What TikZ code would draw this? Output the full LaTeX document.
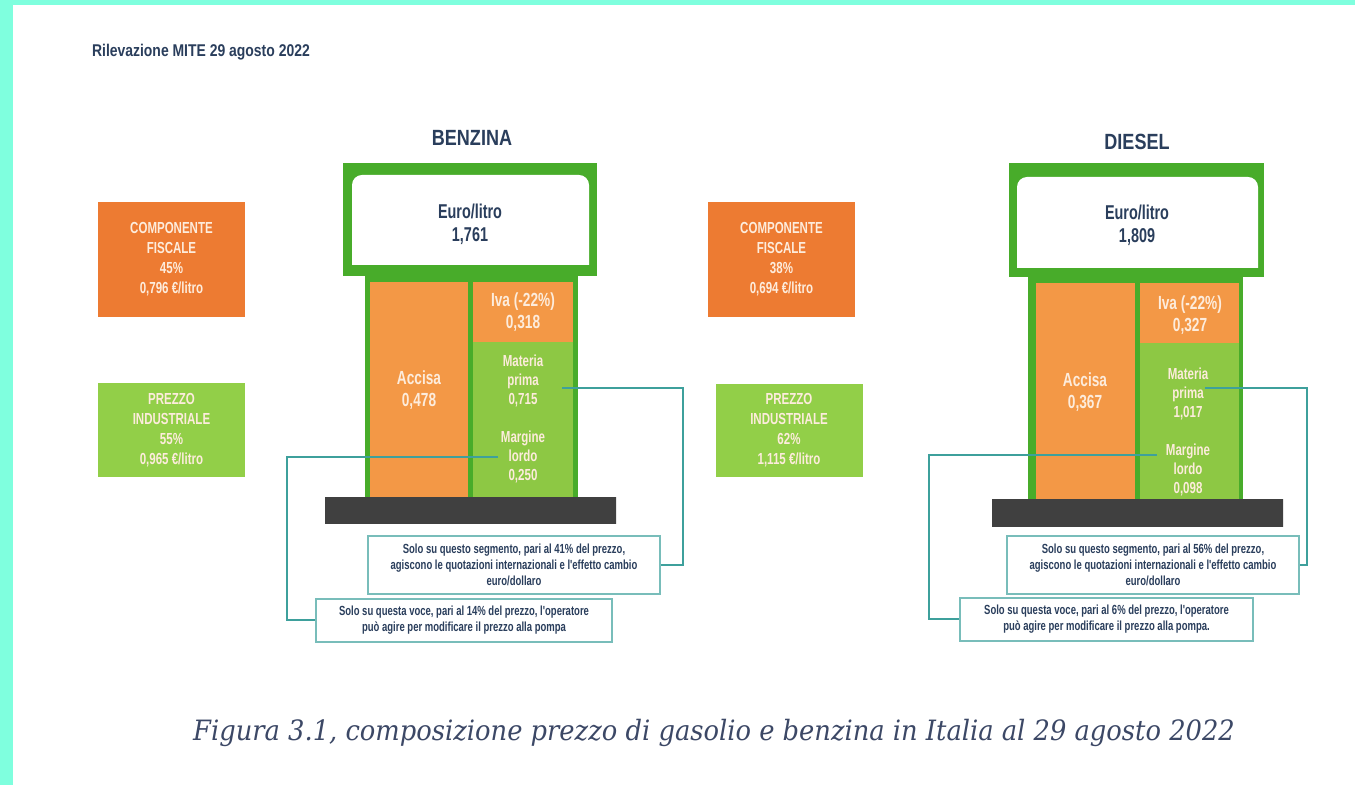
\documentclass[tikz,border=0pt]{standalone}
\usepackage{fontspec}
\usepackage{tikz}
\usetikzlibrary{positioning}
\newfontfamily\condfont[FakeStretch=0.82]{Liberation Sans}
\newfontfamily\narrowfont[FakeStretch=0.72]{Liberation Sans}
\newfontfamily\capfont[FakeStretch=0.92]{DejaVu Serif}
\definecolor{aquaband}{RGB}{127,255,222}
\definecolor{pumpgreen}{RGB}{72,172,42}
\definecolor{cellorange}{RGB}{243,152,70}
\definecolor{cellgreen}{RGB}{141,200,68}
\definecolor{boxorange}{RGB}{237,123,50}
\definecolor{boxgreen}{RGB}{146,207,72}
\definecolor{navytext}{RGB}{42,62,92}
\definecolor{captext}{RGB}{60,72,102}
\definecolor{creamtext}{RGB}{253,236,220}
\definecolor{calloutline}{RGB}{62,160,156}
\tikzset{headtext/.style = {font=\condfont\bfseries\fontsize{11}{13}\selectfont, text=navytext},
         pricetext/.style = {font=\narrowfont\bfseries\fontsize{10}{11.5}\selectfont, text=navytext, align=center},
         celltext/.style = {font=\narrowfont\bfseries\fontsize{9.5}{11}\selectfont, text=creamtext, align=center},
         smallcell/.style = {font=\narrowfont\bfseries\fontsize{8}{9.5}\selectfont, text=creamtext, align=center},
         sidebox/.style = {font=\narrowfont\bfseries\fontsize{8}{10}\selectfont, text=creamtext,
                           align=center, inner sep=0pt, minimum width=73.5pt},
         notebox/.style = {draw=calloutline!70, line width=0.6pt, fill=white, inner sep=0pt,
                           font=\narrowfont\bfseries\fontsize{6.6}{8}\selectfont, text=navytext,
                           align=center},
         callout/.style = {draw=calloutline, line width=1pt}}

\begin{document}
\begin{tikzpicture}[x=0.5pt, y=-0.5pt]
    \useasboundingbox (0, 0) rectangle (1355, 785);
    \fill [white] (0, 0) rectangle (1355, 785);
    \fill [aquaband] (0, 0) rectangle (1355, 5);
    \fill [aquaband] (0, 0) rectangle (13, 785);
    \node (mitetitle) at (85, 52) [anchor=west, font=\condfont\bfseries\fontsize{8.5}{10}\selectfont, text=navytext] {Rilevazione MITE 29 agosto 2022};

    % benzina
    \node (btitle) at (472, 138) [headtext] {BENZINA};
    \fill [pumpgreen] (343, 163) rectangle (597, 276);
    \fill [white] (352, 265) [rounded corners=5pt] -- (352, 175) -- (589, 175) [sharp corners] -- (589, 265) -- cycle;
    \node (bprice) at (470, 224) [pricetext] {Euro/litro\\1,761};
    \fill [pumpgreen] (365, 276) rectangle (578, 498);
    \fill [cellorange] (370, 282) rectangle (468, 498);
    \fill [cellorange] (473, 282) rectangle (573, 342);
    \fill [cellgreen] (473, 342) rectangle (573, 498);
    \shade [top color=black!75, middle color=black!58, bottom color=black!75] (325, 498) rectangle (616, 524);
    \node (bacc) at (419, 390) [celltext] {Accisa\\0,478};
    \node (biva) at (523, 312) [celltext] {Iva (-22\%)\\0,318};
    \node (bmat) at (523, 381) [smallcell] {Materia\\prima\\0,715};
    \node (bmar) at (523, 457) [smallcell] {Margine\\lordo\\0,250};
    \node (bfisc) at (171.5, 259.5) [sidebox, fill=boxorange, minimum height=57.5pt] {COMPONENTE\\FISCALE\\45\%\\0,796 €/litro};
    \node (bind) at (171.5, 430) [sidebox, fill=boxgreen, minimum height=47pt] {PREZZO\\INDUSTRIALE\\55\%\\0,965 €/litro};
    \node (bseg) at (514, 565) [notebox, minimum width=146pt, minimum height=29pt] {Solo su questo segmento, pari al 41\% del prezzo,\\agiscono le quotazioni internazionali e l'effetto cambio\\euro/dollaro};
    \node (bvoce) at (464, 620.5) [notebox, minimum width=148pt, minimum height=21.5pt] {Solo su questa voce, pari al 14\% del prezzo, l'operatore\\può agire per modificare il prezzo alla pompa};
    \coordinate (bmatend) at (562, 388);
    \coordinate (bmarend) at (498, 457);
    \draw [callout] (bmatend) -- ++(121, 0) |- (bseg.east);
    \draw [callout] (bmarend) -- ++(-211, 0) |- (bvoce.west);

    % diesel
    \node (dtitle) at (1137, 142) [headtext] {DIESEL};
    \fill [pumpgreen] (1009, 163) rectangle (1264, 277);
    \fill [white] (1017, 268) [rounded corners=5pt] -- (1017, 177) -- (1258, 177) [sharp corners] -- (1258, 268) -- cycle;
    \node (dprice) at (1137, 225) [pricetext] {Euro/litro\\1,809};
    \fill [pumpgreen] (1028, 277) rectangle (1243, 500);
    \fill [cellorange] (1036, 283) rectangle (1135, 500);
    \fill [cellorange] (1140, 283) rectangle (1239, 343);
    \fill [cellgreen] (1140, 343) rectangle (1239, 500);
    \shade [top color=black!75, middle color=black!58, bottom color=black!75] (992, 500) rectangle (1283, 527);
    \node (dacc) at (1085, 392) [celltext] {Accisa\\0,367};
    \node (diva) at (1190, 315) [celltext] {Iva (-22\%)\\0,327};
    \node (dmat) at (1188, 394) [smallcell] {Materia\\prima\\1,017};
    \node (dmar) at (1188, 470) [smallcell] {Margine\\lordo\\0,098};
    \node (dfisc) at (781.5, 259.5) [sidebox, fill=boxorange, minimum height=57.5pt] {COMPONENTE\\FISCALE\\38\%\\0,694 €/litro};
    \node (dind) at (789, 430.5) [sidebox, fill=boxgreen, minimum height=46.5pt] {PREZZO\\INDUSTRIALE\\62\%\\1,115 €/litro};
    \node (dseg) at (1153, 565) [notebox, minimum width=146pt, minimum height=29pt] {Solo su questo segmento, pari al 56\% del prezzo,\\agiscono le quotazioni internazionali e l'effetto cambio\\euro/dollaro};
    \node (dvoce) at (1106.5, 619.5) [notebox, minimum width=146.5pt, minimum height=21.5pt] {Solo su questa voce, pari al 6\% del prezzo, l'operatore\\può agire per modificare il prezzo alla pompa.};
    \coordinate (dmatend) at (1205, 388);
    \coordinate (dmarend) at (1157, 455);
    \draw [callout] (dmatend) -- ++(102, 0) |- (dseg.east);
    \draw [callout] (dmarend) -- ++(-228, 0) |- (dvoce.west);

    \node (caption) at (714, 733) [font=\capfont\itshape\fontsize{14}{16}\selectfont, text=captext] {Figura 3.1, composizione prezzo di gasolio e benzina in Italia al 29 agosto 2022};
  \end{tikzpicture}
\end{document}
